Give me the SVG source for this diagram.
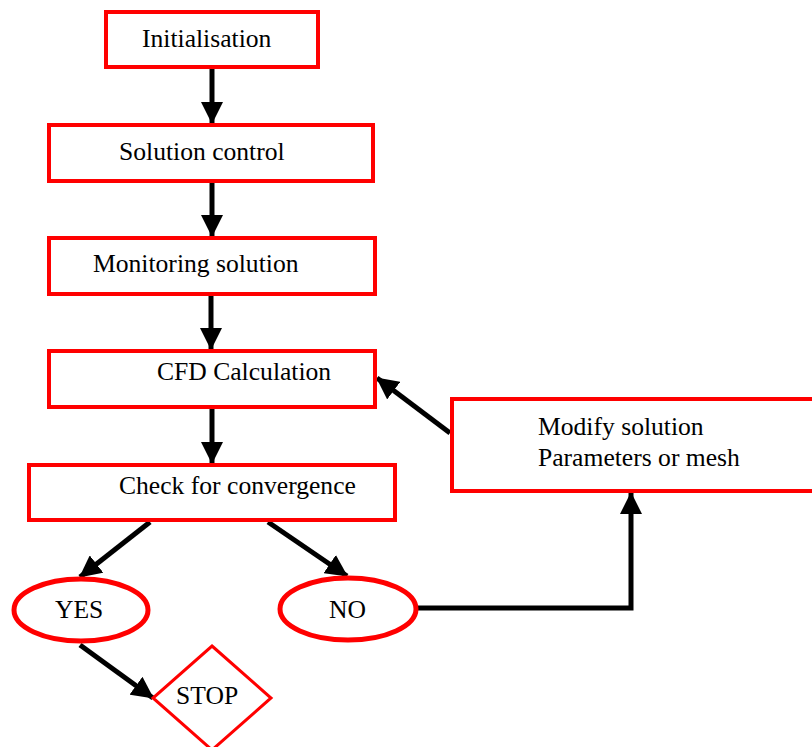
<svg xmlns="http://www.w3.org/2000/svg" width="812" height="747" viewBox="0 0 812 747">
<defs>
<style>
.box{fill:#fff;stroke:#ff0000;stroke-width:4}
.ell{fill:#fff;stroke:#ff0000;stroke-width:5}
.dia{fill:#fff;stroke:#ff0000;stroke-width:3}
.lbl{font-family:"Liberation Serif","Times New Roman",serif;font-size:25.6px;fill:#000}
.con{fill:none;stroke:#000;stroke-width:5}
</style>
<marker id="ah" markerUnits="userSpaceOnUse" markerWidth="22" markerHeight="22" viewBox="0 0 22 22" refX="21" refY="11" orient="auto">
<path d="M0,0 L22,11 L0,22 z" fill="#000"/>
</marker>
</defs>
<rect width="812" height="747" fill="#fff"/>
<g id="connectors">
<line class="con" x1="212" y1="69" x2="212" y2="123" marker-end="url(#ah)"/>
<line class="con" x1="212" y1="183" x2="212" y2="236" marker-end="url(#ah)"/>
<line class="con" x1="211" y1="296" x2="211" y2="349" marker-end="url(#ah)"/>
<line class="con" x1="212" y1="409" x2="212" y2="463" marker-end="url(#ah)"/>
<line class="con" x1="450" y1="433" x2="377" y2="378" marker-end="url(#ah)"/>
<line class="con" x1="150" y1="522" x2="80" y2="577" marker-end="url(#ah)"/>
<line class="con" x1="268" y1="522" x2="347" y2="576" marker-end="url(#ah)"/>
<line class="con" x1="80" y1="645" x2="153" y2="698" marker-end="url(#ah)"/>
<polyline class="con" points="418,608 631,608 631,493" marker-end="url(#ah)"/>
</g>
<g id="initialisation">
<rect class="box" x="106" y="12" width="212" height="55"/>
<text class="lbl" x="142" y="47">Initialisation</text>
</g>
<g id="solution-control">
<rect class="box" x="49" y="125" width="324" height="56"/>
<text class="lbl" x="119" y="160">Solution control</text>
</g>
<g id="monitoring-solution">
<rect class="box" x="49" y="238" width="326" height="56"/>
<text class="lbl" x="93" y="272">Monitoring solution</text>
</g>
<g id="cfd-calculation">
<rect class="box" x="49" y="351" width="326" height="56"/>
<text class="lbl" x="157" y="380">CFD Calculation</text>
</g>
<g id="check-convergence">
<rect class="box" x="29" y="465" width="366" height="55"/>
<text class="lbl" x="119" y="494">Check for convergence</text>
</g>
<g id="modify-solution">
<rect class="box" x="452" y="399" width="370" height="92"/>
<text class="lbl" x="538" y="435">Modify solution</text>
<text class="lbl" x="538" y="466">Parameters or mesh</text>
</g>
<g id="yes">
<ellipse class="ell" cx="81" cy="610" rx="67" ry="31"/>
<text class="lbl" x="55" y="618">YES</text>
</g>
<g id="no">
<ellipse class="ell" cx="348" cy="609" rx="68" ry="31"/>
<text class="lbl" x="329" y="618">NO</text>
</g>
<g id="stop">
<polygon class="dia" points="212,646 271,698 212,750 153,698"/>
<text class="lbl" x="176" y="704">STOP</text>
</g>
</svg>
